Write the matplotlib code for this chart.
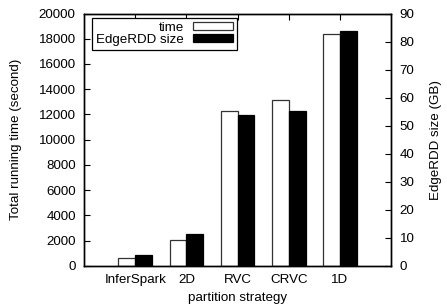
import numpy as np
import matplotlib
matplotlib.use('Agg')
import matplotlib.pyplot as plt

# 数据
strategies = ['InferSpark', '2D', 'RVC', 'CRVC', '1D']
run_time = [600, 2050, 12250, 13150, 18400]      # second
edge_size = [3.9, 11.4, 53.8, 55.1, 83.6]          # GB

plt.rcParams['font.family'] = ['Liberation Sans', 'DejaVu Sans']
plt.rcParams['font.size'] = 9.6

fig = plt.figure(figsize=(4.47, 3.07), dpi=100)
ax = fig.add_axes([0.188, 0.134, 0.687, 0.822])
ax2 = ax.twinx()

x = np.arange(len(strategies))
w = 0.33

b1 = ax.bar(x - w / 2, run_time, w, color='white', edgecolor='#333333',
            linewidth=0.9, label='time', zorder=2)
b2 = ax2.bar(x + w / 2, edge_size, w, color='black', edgecolor='black',
             linewidth=0.9, label='EdgeRDD size', zorder=2)

ax.set_xlim(-1, 5)
ax.set_ylim(0, 20000)
ax2.set_ylim(0, 90)
ax.set_xticks(x)
ax.set_xticklabels(strategies)
ax.set_yticks(np.arange(0, 20001, 2000))
ax2.set_yticks(np.arange(0, 91, 10))

ax.tick_params(axis='x', direction='in', top=True, length=4, width=0.8, pad=6)
ax.tick_params(axis='y', direction='in', length=4, width=0.8, pad=6)
ax2.tick_params(axis='y', direction='in', length=4, width=0.8, pad=6)

for a in (ax, ax2):
    for s in a.spines.values():
        s.set_linewidth(1.0)

ax.set_xlabel('partition strategy', labelpad=4)
ax.set_ylabel('Total running time (second)', labelpad=12)
ax2.set_ylabel('EdgeRDD size (GB)', labelpad=11)

leg = ax2.legend([b1, b2], ['time', 'EdgeRDD size'], loc='upper left',
                 bbox_to_anchor=(0.026, 0.984), markerfirst=False,
                 fancybox=False, framealpha=1, edgecolor='black',
                 handlelength=3.0, handleheight=0.5, borderpad=0.3,
                 labelspacing=0.0, handletextpad=0.7, borderaxespad=0)
leg.get_frame().set_linewidth(0.9)
for t in leg.get_texts():
    t.set_ha('right')

fig.savefig('out.png', dpi=100)
